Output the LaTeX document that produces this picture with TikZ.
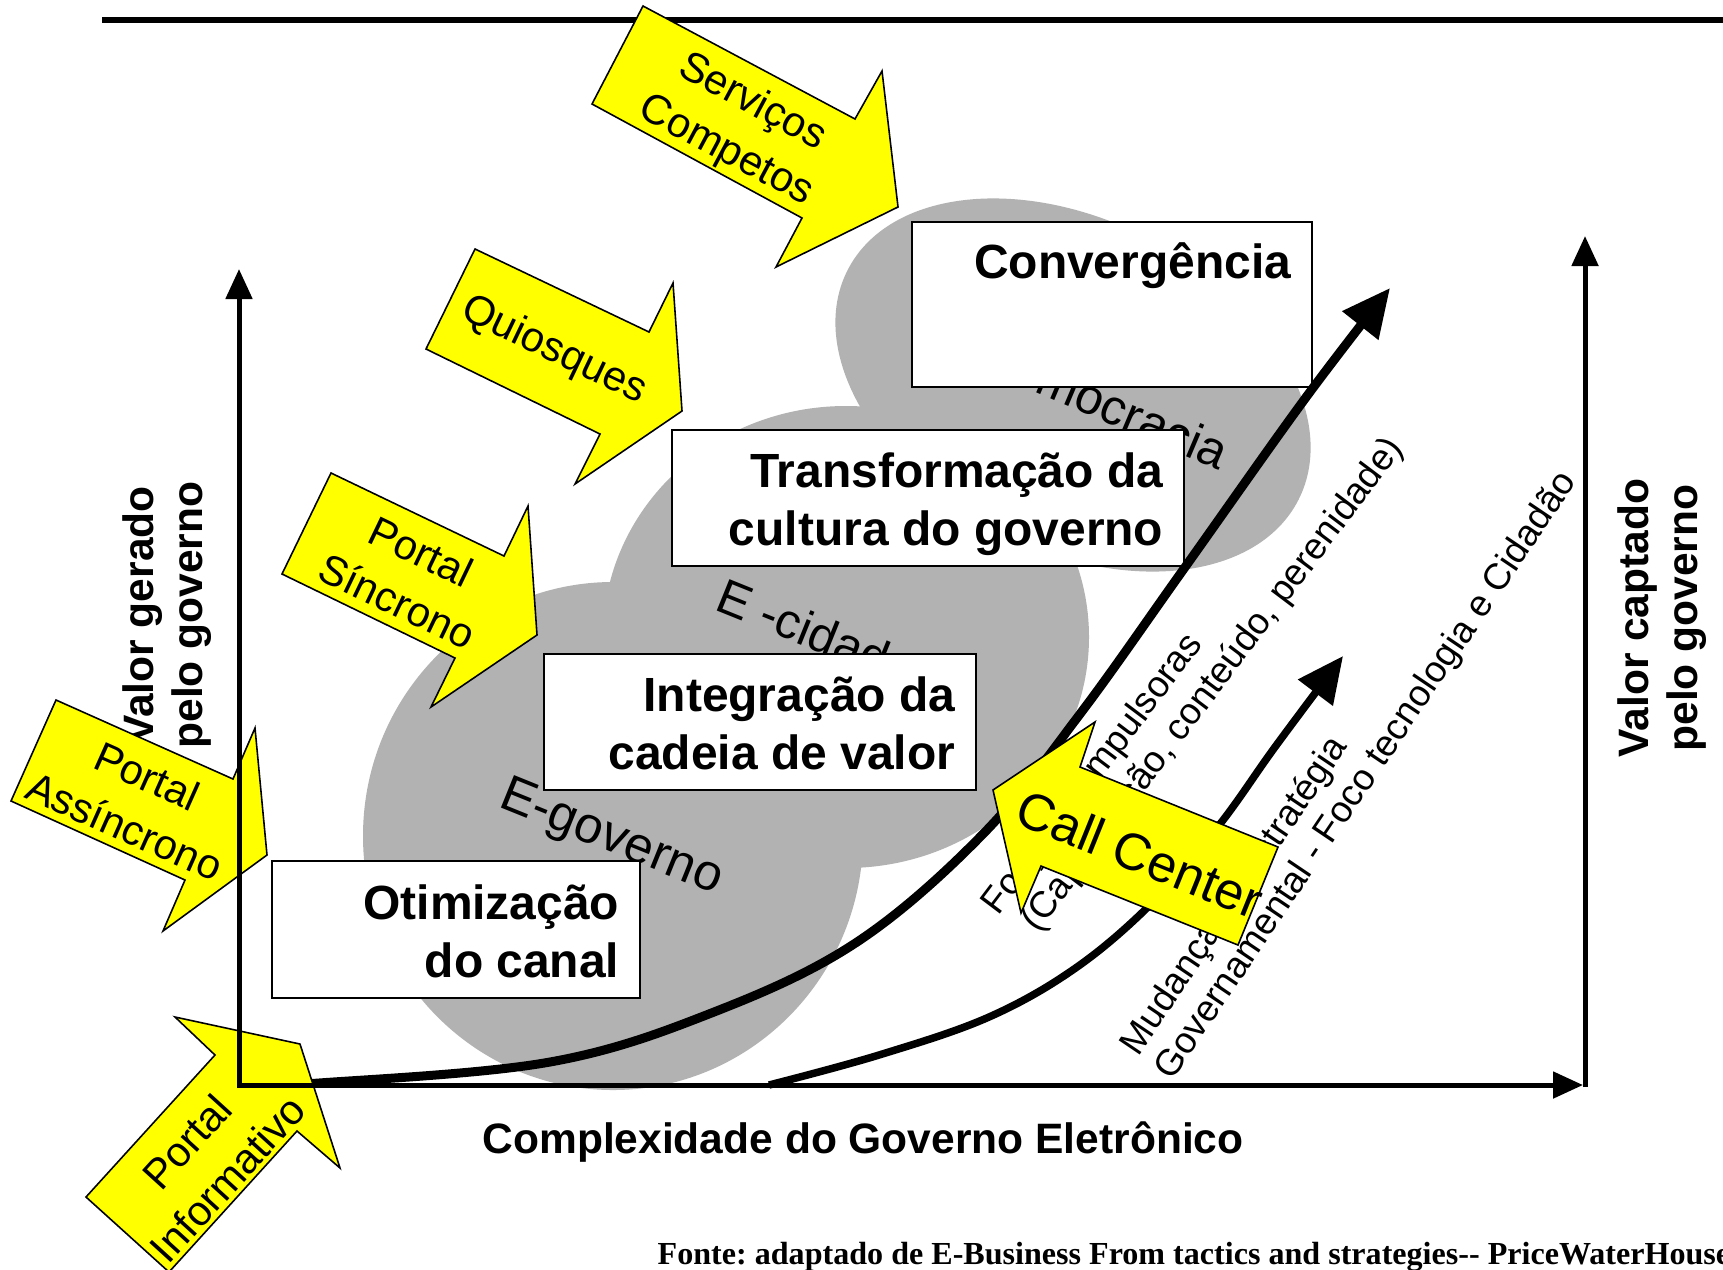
\documentclass[tikz,border=0pt]{standalone}
\usepackage{fontspec}
\setmainfont{Liberation Sans}
\newfontfamily\footserif{Liberation Serif}
\usetikzlibrary{arrows.meta}
\definecolor{blobgray}{RGB}{178,178,178}
\definecolor{ayellow}{RGB}{255,255,0}
\tikzset{
  blob/.style={fill=blobgray, draw=none},
  yarrow/.style={fill=ayellow, draw=black, line width=0.45pt, line join=miter},
  ytext/.style={font=\fontsize{11.9}{15.6}\selectfont, align=center, inner sep=0pt},
  wbox/.style={draw=black, fill=white, line width=0.6pt, inner sep=0pt, anchor=north west},
  btext/.style={font=\bfseries\fontsize{13.65}{16.5}\selectfont, inner sep=0pt, anchor=base east},
  axlabel/.style={font=\bfseries\fontsize{12.1}{14}\selectfont, align=center, inner sep=0pt},
  glabel/.style={font=\fontsize{14.5}{18}\selectfont, inner sep=0pt},
  sidetext/.style={font=\fontsize{10.5}{12}\selectfont, inner sep=0pt, anchor=base west},
  axisline/.style={line width=0.5mm},
  bigcurve/.style={line width=0.9mm, -{Triangle[length=4.8mm,width=4.4mm]}},
}
\begin{document}
\begin{tikzpicture}[x=0.1mm, y=-0.1mm]
\useasboundingbox (0,0) rectangle (1723,1269);
\fill[white] (0,0) rectangle (1723,1269);

% grey blobs
\fill[blob] (613,836) ellipse [x radius=250, y radius=254];
\fill[blob] (846,637) ellipse [x radius=243, y radius=231];
\fill[blob, rotate around={-27:(1073,385)}] (1073,385) ellipse [x radius=253, y radius=165];

% grey labels
\node[glabel, rotate=-22] (egov) at (611,839) {E-governo};
\node[glabel, font=\fontsize{14}{18}\selectfont, rotate=-22, anchor=base west] (ecid) at (713,609) {E -cidadania};
\node[glabel, font=\fontsize{14.2}{18}\selectfont, rotate=-23, anchor=base east] (edem) at (1220,471) {E-democracia};

% white boxes
\node[wbox, minimum width=40mm, minimum height=16.5mm] (conv) at (911,221) {};
\node[btext] (convt) at (1292,278) {Convergência};
\node[wbox, minimum width=51.2mm, minimum height=13.6mm] (trans) at (671,429) {};
\node[btext] (trans1) at (1164,487) {Transformação da};
\node[btext] (trans2) at (1164,545) {cultura do governo};
\node[wbox, minimum width=43.2mm, minimum height=13.6mm] (integ) at (543,653) {};
\node[btext] (integ1) at (956,711) {Integração da};
\node[btext] (integ2) at (956,769) {cadeia de valor};
\node[wbox, minimum width=36.8mm, minimum height=13.7mm] (otim) at (271,860) {};
\node[btext] (otim1) at (620,919) {Otimização};
\node[btext] (otim2) at (620,977) {do canal};

% curves
\draw[bigcurve] plot[smooth, tension=0.6] coordinates {(240,1085) (319,1083) (550,1062) (714,1012) (857,942) (983,834) (1080,714) (1183,570) (1304,400) (1390,288)};
\draw[line width=0.75mm, -{Triangle[length=4.6mm,width=4.2mm]}] plot[smooth, tension=0.6] coordinates {(769,1085) (879,1055) (989,1017) (1077,967) (1154,901) (1220,824) (1275,747) (1343,656)};

% side texts
\node[sidetext, rotate=53] (forc1) at (998,917) {Forças Compulsoras};
\node[sidetext, rotate=53] (forc2) at (1038,934) {(Capacitação, conteúdo, perenidade)};
\node[sidetext, rotate=56] (mud1) at (1138,1058) {Mudança de estratégia};
\node[sidetext, rotate=56] (mud2) at (1172,1082) {Governamental - Foco tecnologia e Cidadão};

% axis labels
\node[axlabel, rotate=90] (vgerado) at (167,615) {Valor gerado\\pelo governo};
\node[axlabel, rotate=90] (vcaptado) at (1662,618) {Valor captado\\pelo governo};
\node[axlabel] (complex) at (863,1142) {Complexidade do Governo Eletrônico};

% top rule
\draw[line width=0.6mm] (102,20) -- (1723,20);

% yellow arrows
\filldraw[yarrow] (643,6) -- (855,119) -- (882,71) -- (898,207) -- (776,267) -- (802,218) -- (592,104) -- cycle;
\node[ytext, rotate=-28.1] (servt) at (739,127) {Serviços\\Competos};
\filldraw[yarrow] (475,249) -- (649,332) -- (673,283) -- (682,411) -- (575,484) -- (600,434) -- (426,349) -- cycle;
\node[ytext, rotate=-25.5] (quit) at (554,351) {Quiosques};
\filldraw[yarrow] (331,473) -- (504,556) -- (528,506) -- (537,635) -- (431,707) -- (455,658) -- (282,574) -- cycle;
\node[ytext, rotate=-25.6] (sinct) at (409,576) {Portal\\Síncrono};
\filldraw[yarrow] (56,700) -- (233,779) -- (255,728) -- (267,855) -- (163,931) -- (185,880) -- (11,801) -- cycle;
\node[ytext, rotate=-24] (asinct) at (136,801) {Portal\\Assíncrono};
\filldraw[yarrow] (86,1197) -- (215,1055) -- (175,1017) -- (300,1044) -- (340,1168) -- (297,1131) -- (169,1272) -- cycle;
\node[ytext, rotate=47.7] (infot) at (207,1160) {Portal\\Informativo};
\filldraw[yarrow] (993,790) -- (1095,722) -- (1080,767) -- (1278,847) -- (1238,945) -- (1041,866) -- (1021,913) -- cycle;
\node[ytext, font=\fontsize{14.8}{17}\selectfont, rotate=-22] (callt) at (1140,854) {Call Center};

% axes
\coordinate (ytop) at (239,269);
\coordinate (orig) at (239,1085);
\coordinate (xend) at (1583,1085);
\coordinate (rbot) at (1585,1087);
\coordinate (rtop) at (1585,236);
\draw[axisline, {Triangle[length=3mm,width=2.6mm]}-{Triangle[length=3mm,width=2.6mm]}] (ytop) -- (orig) -- (xend);
\draw[axisline, -{Triangle[length=3mm,width=2.6mm]}] (rbot) -- (rtop);

% footer
\node[inner sep=0pt, anchor=base west, font=\footserif\bfseries\fontsize{9.13}{11}\selectfont] (fonte) at (657,1264) {\frenchspacing Fonte: adaptado de E-Business From tactics and strategies-- PriceWaterHouse};
\end{tikzpicture}
\end{document}
